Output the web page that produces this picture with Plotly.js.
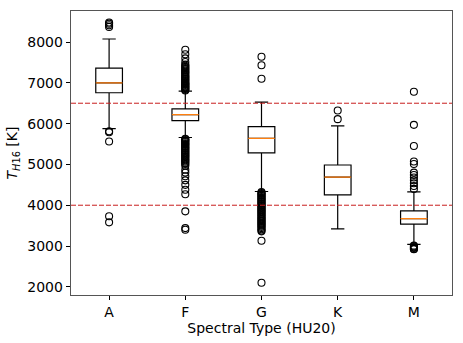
<!DOCTYPE html>
<html>
<head>
<meta charset="utf-8">
<script src="https://cdn.plot.ly/plotly-3.0.1.min.js"></script>
<style>
  body { margin: 0; background: #fff; }
  #plot { width: 463px; height: 343px; }
</style>
</head>
<body>
<div id="plot"></div>
<script>
// spectral types and box statistics (K)
var types = ['A', 'F', 'G', 'K', 'M'];
var q1 = [6756, 6075, 5281, 4255, 3535];
var medians = [7000, 6222, 5640, 4690, 3672];
var q3 = [7361, 6362, 5927, 4986, 3861];
var lowWhisker = [5878, 5660, 4337, 3419, 3043];
var highWhisker = [8074, 6795, 6525, 5944, 4329];

// fliers per type
var outA = [8480, 8450, 8410, 8370, 5810, 5790, 5560, 3730, 3580];
var outF = [7810, 7700, 7600, 7510, 7450, 7420, 7390, 7360, 7330, 7300, 7270, 7250, 7220, 7190, 7160,
  7140, 7110, 7090, 7060, 7040, 7010, 6990, 6970, 6950, 6930, 6910, 6890, 6870, 6850, 6830, 6810,
  5630, 5610, 5590, 5570, 5550, 5520, 5500, 5480, 5450, 5430, 5400, 5380, 5350, 5330, 5300, 5280,
  5250, 5230, 5200, 5180, 5150, 5120, 5100, 5070, 5040, 5010, 4970, 4870, 4800, 4710, 4610, 4500,
  4380, 4270, 3850, 3440, 3400];
var outG = [7640, 7430, 7100, 4320, 4300, 4280, 4250, 4230, 4200, 4180, 4150, 4130, 4100, 4080, 4050,
  4030, 4000, 3980, 3950, 3930, 3900, 3880, 3850, 3830, 3800, 3780, 3750, 3720, 3700, 3670, 3650,
  3620, 3600, 3570, 3550, 3520, 3500, 3470, 3440, 3410, 3380, 3360, 3130, 2100];
var outK = [6320, 6110];
var outM = [6780, 5970, 5450, 5070, 5010, 4800, 4740, 4680, 4610, 4540, 4470, 4400,
  3010, 2990, 2970, 2950, 2930, 2920];

var thresholds = [6500, 4000];

var boxes = {
  type: 'box',
  x: types,
  q1: q1,
  median: medians,
  q3: q3,
  lowerfence: lowWhisker,
  upperfence: highWhisker,
  boxpoints: false,
  whiskerwidth: 0.5,
  fillcolor: 'rgba(0,0,0,0)',
  line: {color: '#000', width: 1.2},
  hoverinfo: 'skip',
  showlegend: false
};

// a flat box at the median only, to get the orange median line
var medianLines = {
  type: 'box',
  x: types,
  q1: medians,
  median: medians,
  q3: medians,
  lowerfence: medians,
  upperfence: medians,
  boxpoints: false,
  whiskerwidth: 0,
  fillcolor: 'rgba(0,0,0,0)',
  line: {color: '#ff7f0e', width: 1.2},
  hoverinfo: 'skip',
  showlegend: false
};

var fliers = {x: [], y: []};
var groups = [outA, outF, outG, outK, outM];
for (var i = 0; i < groups.length; i++) {
  for (var j = 0; j < groups[i].length; j++) {
    fliers.x.push(types[i]);
    fliers.y.push(groups[i][j]);
  }
}

var flierTrace = {
  type: 'scatter',
  mode: 'markers',
  x: fliers.x,
  y: fliers.y,
  marker: {symbol: 'circle-open', size: 7, color: '#000', line: {width: 1.1}},
  hoverinfo: 'skip',
  showlegend: false
};

var shapes = thresholds.map(function (t) {
  return {
    type: 'line', xref: 'paper', x0: 0, x1: 1, yref: 'y', y0: t, y1: t,
    line: {color: '#c81e1e', width: 1, dash: '5px,2px'}
  };
});

var layout = {
  width: 463,
  height: 343,
  margin: {l: 71, r: 11, t: 11, b: 48},
  paper_bgcolor: '#fff',
  plot_bgcolor: '#fff',
  font: {family: 'DejaVu Sans', size: 14, color: '#000'},
  boxmode: 'overlay',
  boxgap: 0.5,
  showlegend: false,
  shapes: shapes,
  xaxis: {
    type: 'category',
    categoryarray: types,
    range: [-0.5, 4.5],
    showgrid: false,
    zeroline: false,
    showline: true,
    mirror: true,
    linecolor: '#555',
    linewidth: 1.3,
    ticks: 'outside',
    ticklen: 4,
    tickcolor: '#000',
    title: {text: 'Spectral Type (HU20)', font: {size: 14}, standoff: 4}
  },
  yaxis: {
    range: [1800, 8760],
    tickvals: [2000, 3000, 4000, 5000, 6000, 7000, 8000],
    showgrid: false,
    zeroline: false,
    showline: true,
    mirror: true,
    linecolor: '#555',
    linewidth: 1.3,
    ticks: 'outside',
    ticklen: 4,
    tickcolor: '#000',
    title: {text: '<i>T</i><sub><i>H</i>16</sub> [K]', font: {size: 14}, standoff: 6}
  }
};

Plotly.newPlot('plot', [boxes, medianLines, flierTrace], layout, {displayModeBar: false, staticPlot: true});
</script>
</body>
</html>
